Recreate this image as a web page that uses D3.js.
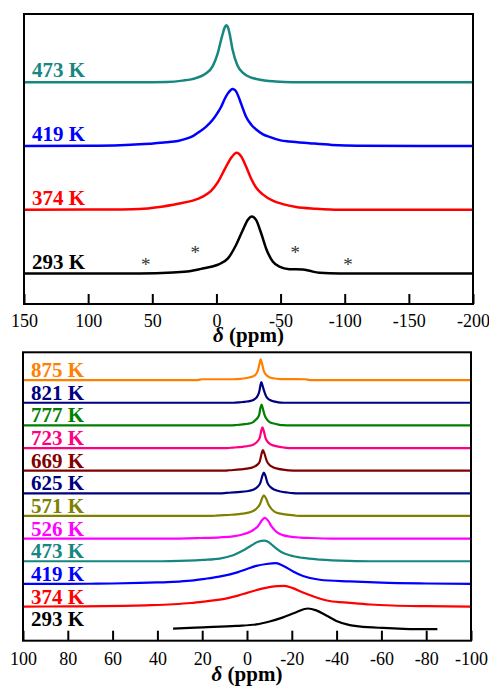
<!DOCTYPE html>
<html><head><meta charset="utf-8">
<script src="https://cdn.jsdelivr.net/npm/d3@7"></script>
<style>html,body{margin:0;padding:0;background:#fff;} svg{display:block;}</style>
</head><body><svg id="c" width="489" height="687"></svg>
<script>
// ---------------- data (ppm, normalised intensity) ----------------
const topTicks = [150, 100, 50, 0, -50, -100, -150, -200];
const bottomTicks = [100, 80, 60, 40, 20, 0, -20, -40, -60, -80, -100];

const topLabels = ["293 K", "374 K", "419 K", "473 K"];
const topColors = ["#000000", "#ff0000", "#0000ff", "#16877f"];

const top293 = [[150,0],[100,0],[60,0],[34,0.018],[21,0.041],[10.7,0.088],[4.2,0.118],[-2.3,0.165],[-8.8,0.26],[-15.3,0.5],[-20.5,0.76],[-24.4,0.94],[-27.5,1],[-30.9,0.94],[-34.8,0.71],[-38.7,0.44],[-43.9,0.21],[-49.1,0.12],[-56.9,0.076],[-67.3,0.07],[-72.5,0.047],[-80.3,0.012],[-96,0],[-200,0]];
const top374 = [[150,0],[100,0.003],[75,0.006],[60,0.012],[44.5,0.048],[28.9,0.11],[18.5,0.16],[10.7,0.23],[4.2,0.33],[-1,0.48],[-6.2,0.7],[-11.4,0.91],[-15.8,1],[-19.2,0.94],[-23.1,0.76],[-27,0.55],[-30.9,0.39],[-36.1,0.27],[-43.9,0.16],[-51.7,0.1],[-62.1,0.048],[-77.7,0.018],[-96,0],[-200,0]];
const top419 = [[150,0],[100,0.005],[75,0.015],[60,0.03],[52,0.042],[39,0.065],[30,0.09],[24,0.125],[18,0.18],[13.3,0.25],[8,0.34],[2.9,0.46],[-0.5,0.57],[-3.7,0.69],[-6.5,0.83],[-8.8,0.92],[-11,0.98],[-12.7,1],[-14.5,0.98],[-15.8,0.94],[-17.5,0.85],[-19.3,0.74],[-23.2,0.51],[-27,0.38],[-31,0.29],[-36,0.21],[-41.3,0.16],[-50,0.1],[-57,0.08],[-72.5,0.05],[-90,0.02],[-110,0.005],[-200,0]];
const top473 = [[150,0],[60,0],[39,0.006],[26.5,0.03],[16,0.075],[8.5,0.15],[3,0.28],[-1,0.51],[-4.4,0.81],[-6.4,0.96],[-7.7,1],[-9.2,0.95],[-10.3,0.85],[-12.6,0.57],[-16.5,0.29],[-20.5,0.17],[-23.5,0.12],[-33,0.05],[-46,0.015],[-60,0.003],[-200,0]];
const topSeries = [top293, top374, top419, top473];

const asteriskPpm = [55, 16.5, -61.5, -102.5];
const asteriskLevel = [0.2, 0.41, 0.41, 0.2];

const bottomLabels = ["293 K","374 K","419 K","473 K","526 K","571 K","625 K","669 K","723 K","777 K","821 K","875 K"];
const bottomColors = ["#000000","#ff0000","#0000ff","#16877f","#ff00ff","#808000","#000080","#800000","#ff0080","#008000","#000080","#ff8000"];

const bot293 = [[33,0.03],[19.6,0.09],[4.8,0.16],[-4.2,0.23],[-10.1,0.37],[-16.1,0.57],[-22,0.82],[-27.2,1],[-30.9,0.91],[-35.4,0.66],[-39.9,0.4],[-45.9,0.2],[-50,0.14],[-60.7,0.06],[-70,0.02],[-85,0]];
const bot374 = [[100,0],[80,0.005],[55,0.03],[45,0.06],[33,0.11],[25,0.17],[19,0.24],[13,0.32],[8.5,0.41],[4,0.53],[0,0.66],[-4,0.79],[-7.2,0.88],[-10.5,0.95],[-13.5,0.99],[-16.8,1],[-20.5,0.89],[-25,0.68],[-31,0.44],[-36.9,0.27],[-45.9,0.18],[-55,0.1],[-65,0.05],[-80,0.02],[-100,0]];
const bot419 = [[100,0],[85,0.003],[70,0.008],[60,0.02],[48,0.045],[40,0.07],[33,0.1],[25,0.16],[18.5,0.25],[13,0.34],[8,0.45],[4,0.57],[0,0.72],[-4.2,0.87],[-8.7,0.96],[-13,1],[-16.1,0.88],[-20.6,0.6],[-25,0.38],[-32.5,0.2],[-45.9,0.12],[-60,0.06],[-80,0.02],[-100,0]];
const bot473 = [[100,0],[40,0],[34.5,0.005],[19.6,0.065],[12.2,0.13],[6.2,0.29],[1.8,0.52],[-1.9,0.76],[-4.9,0.94],[-7.9,1],[-10.1,0.89],[-12.3,0.68],[-15.3,0.45],[-19.1,0.29],[-25,0.16],[-32.5,0.08],[-45.9,0.016],[-55,0],[-100,0]];
const bot526 = [[100,0],[36,0],[21,0.03],[12,0.06],[6.2,0.11],[2,0.2],[-1.2,0.32],[-3.5,0.47],[-4.9,0.6],[-6.5,0.86],[-7.9,1],[-9.4,0.87],[-10.9,0.6],[-12.3,0.42],[-13.8,0.28],[-16,0.17],[-19.1,0.1],[-24,0.05],[-28,0.03],[-38,0],[-100,0]];
const bot571 = [[100,0],[16,0],[13.7,0.02],[7,0.06],[2,0.11],[-2,0.2],[-4,0.33],[-5.7,0.55],[-6.8,0.87],[-7.5,1],[-8.4,0.87],[-9.6,0.55],[-11,0.33],[-12.4,0.2],[-15,0.11],[-19,0.05],[-22,0.01],[-25,0],[-100,0]];
const bot625 = [[100,0],[12,0],[9.2,0.02],[4,0.06],[0,0.1],[-2.7,0.17],[-4.6,0.3],[-6,0.52],[-6.9,0.85],[-7.5,1],[-8.2,0.85],[-9.1,0.52],[-10.5,0.3],[-12.4,0.17],[-15,0.09],[-18,0.04],[-20.5,0.01],[-23,0],[-100,0]];
const bot669 = [[100,0],[10,0],[7.7,0.02],[3,0.06],[0,0.1],[-2.7,0.17],[-4.5,0.28],[-5.7,0.45],[-6.5,0.82],[-7.1,1],[-7.8,0.82],[-8.9,0.45],[-10,0.28],[-11.6,0.17],[-14,0.09],[-17,0.04],[-19,0.01],[-22,0],[-100,0]];
const bot723 = [[100,0],[9,0],[6.2,0.02],[2,0.06],[-1,0.11],[-2.7,0.16],[-4.3,0.28],[-5.7,0.5],[-6.4,0.85],[-6.9,1],[-7.5,0.82],[-8.3,0.48],[-9.4,0.28],[-10.9,0.16],[-13,0.09],[-15.5,0.04],[-17.6,0.01],[-20,0],[-100,0]];
const bot777 = [[100,0],[8,0],[4.7,0.02],[1,0.06],[-1.5,0.1],[-2.7,0.16],[-4,0.28],[-5.4,0.5],[-6,0.85],[-6.5,1],[-7.1,0.8],[-7.9,0.48],[-8.8,0.3],[-10.1,0.16],[-12,0.09],[-14,0.04],[-16,0.01],[-19,0],[-100,0]];
const bot821 = [[100,0],[6,0],[3.3,0.02],[0,0.06],[-2.5,0.12],[-3.8,0.2],[-4.8,0.35],[-5.5,0.55],[-6,0.85],[-6.4,1],[-7,0.8],[-7.8,0.52],[-8.5,0.32],[-9.4,0.19],[-11,0.1],[-13,0.04],[-15,0.01],[-18,0],[-100,0]];
const bot875 = [[100,0],[22,0],[20,0.04],[6,0.04],[3,0.06],[0.3,0.1],[-2.5,0.17],[-3.8,0.26],[-4.8,0.45],[-5.5,0.75],[-6.1,1],[-6.8,0.75],[-7.5,0.45],[-8.5,0.26],[-10,0.14],[-11.6,0.09],[-15,0.05],[-26,0.04],[-28,0],[-100,0]];
const bottomSeries = [bot293, bot374, bot419, bot473, bot526, bot571, bot625, bot669, bot723, bot777, bot821, bot875];

// ---------------- drawing ----------------
const FONT = "'Liberation Serif','Times New Roman',Times,serif";
const svg = d3.select("#c");

function drawPanel(o) {
  const x = d3.scaleLinear().domain(o.xDomain).range([o.left, o.right]);
  const y = d3.scaleLinear().domain(o.yDomain).range([o.bottom, o.top]);
  const id = "clip" + o.name;
  svg.append("clipPath").attr("id", id).append("rect")
    .attr("x", o.left).attr("y", o.top).attr("width", o.right - o.left).attr("height", o.bottom - o.top);

  const g = svg.append("g");
  o.series.forEach((s, i) => {
    const off = i * o.step;
    const line = d3.line().x(d => x(d[0])).y(d => y(d[1] + off)).curve(d3.curveMonotoneX);
    g.append("path").attr("d", line(s)).attr("fill", "none")
      .attr("stroke", o.colors[i]).attr("stroke-width", o.lw)
      .attr("stroke-linejoin", "round").attr("clip-path", `url(#${id})`);
    g.append("text").attr("x", o.left + 8).attr("y", y(off) - o.labelLift)
      .attr("font-family", FONT).attr("font-weight", "bold").attr("font-size", 21)
      .attr("fill", o.colors[i]).text(o.labels[i]);
  });

  const ax = svg.append("g").attr("transform", `translate(0,${o.bottom})`)
    .call(d3.axisBottom(x).tickValues(o.ticks).tickSizeInner(-10).tickSizeOuter(0)
      .tickPadding(o.tickPad).tickFormat(d => String(d)));
  ax.select(".domain").remove();
  ax.selectAll(".tick line").attr("stroke", "#000").attr("stroke-width", 2);
  ax.selectAll(".tick text").attr("fill", "#000").attr("font-family", FONT).attr("font-size", 18);

  svg.append("rect").attr("x", o.left).attr("y", o.top)
    .attr("width", o.right - o.left).attr("height", o.bottom - o.top)
    .attr("fill", "none").attr("stroke", "#000").attr("stroke-width", 2);

  const t = svg.append("text").attr("x", (o.left + o.right) / 2).attr("y", o.titleY)
    .attr("text-anchor", "middle").attr("font-family", FONT).attr("font-weight", "bold").attr("font-size", 21);
  t.append("tspan").attr("font-style", "italic").text("δ");
  t.append("tspan").text(" (ppm)");
  return { x, y };
}

const topP = drawPanel({
  name: "top", left: 24, right: 473, top: 14, bottom: 304,
  xDomain: [150, -200], yDomain: [-0.535, 4.553], step: 1.118,
  series: topSeries, colors: topColors, labels: topLabels,
  lw: 2.5, labelLift: 5, ticks: topTicks, tickPad: 10, titleY: 342
});

svg.append("g").selectAll("text").data(asteriskPpm).join("text")
  .attr("x", d => topP.x(d))
  .attr("y", (d, i) => topP.y(asteriskLevel[i]) + 8.5)
  .attr("text-anchor", "middle").attr("font-family", FONT).attr("font-size", 19)
  .attr("fill", "#333").text("*");

drawPanel({
  name: "bot", left: 23, right: 471, top: 352.3, bottom: 640.7,
  xDomain: [100, -100], yDomain: [-0.556, 13.377], step: 1.094,
  series: bottomSeries, colors: bottomColors, labels: bottomLabels,
  lw: 2.2, labelLift: 3, ticks: bottomTicks, tickPad: 12, titleY: 681
});
</script>
</body></html>
